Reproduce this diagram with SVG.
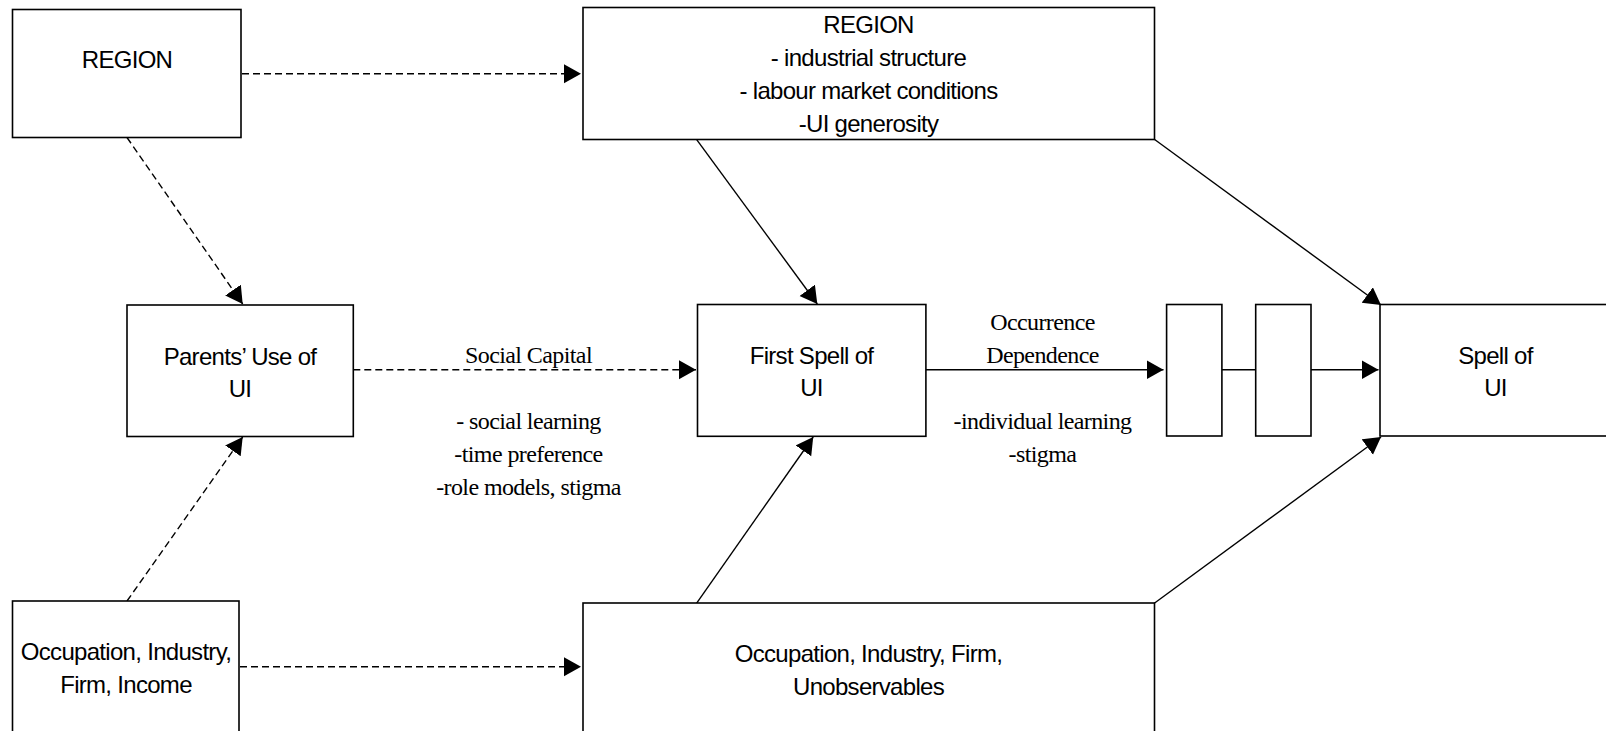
<svg xmlns="http://www.w3.org/2000/svg" width="1606" height="731" viewBox="0 0 1606 731">
<defs>
<style>
.box{fill:#fff;stroke:#000;stroke-width:1.6}
.t{font-family:"Liberation Sans",Arial,sans-serif;font-size:24px;letter-spacing:-0.7px;text-anchor:middle;fill:#000}
.s{font-family:"Liberation Serif","Times New Roman",serif;font-size:24px;letter-spacing:-0.6px;text-anchor:middle;fill:#000}
.c{fill:none;stroke:#000;stroke-width:1.4}
.d{stroke-dasharray:7 4}
</style>
<marker id="ah" markerUnits="userSpaceOnUse" markerWidth="20" markerHeight="20" refX="17" refY="9.5" orient="auto">
<path d="M0,0 L17,9.5 L0,19 z" fill="#000"/>
</marker>
</defs>
<rect width="1606" height="731" fill="#fff"/>
<g id="connectors">
<line class="c d" x1="242" y1="73.7" x2="581" y2="73.7" marker-end="url(#ah)"/>
<line class="c d" x1="127" y1="137.5" x2="242.7" y2="304" marker-end="url(#ah)"/>
<line class="c d" x1="127" y1="601" x2="242.7" y2="437" marker-end="url(#ah)"/>
<line class="c d" x1="353.3" y1="369.7" x2="696" y2="369.7" marker-end="url(#ah)"/>
<line class="c d" x1="240" y1="666.8" x2="581" y2="666.8" marker-end="url(#ah)"/>
<line class="c" x1="696.5" y1="139.3" x2="817.3" y2="304" marker-end="url(#ah)"/>
<line class="c" x1="696.5" y1="603.3" x2="813.2" y2="437" marker-end="url(#ah)"/>
<line class="c" x1="925.9" y1="369.7" x2="1163.5" y2="369.7" marker-end="url(#ah)"/>
<line class="c" x1="1221.9" y1="369.7" x2="1255.7" y2="369.7"/>
<line class="c" x1="1311" y1="369.7" x2="1378.5" y2="369.7" marker-end="url(#ah)"/>
<line class="c" x1="1154.3" y1="139.3" x2="1381" y2="305" marker-end="url(#ah)"/>
<line class="c" x1="1154.3" y1="603.3" x2="1381" y2="437" marker-end="url(#ah)"/>
</g>
<g id="region">
<rect class="box" x="12.5" y="9.5" width="228.5" height="128"/>
<text class="t" x="127" y="67.5">REGION</text>
</g>
<g id="region-detail">
<rect class="box" x="583" y="7.5" width="571.5" height="132"/>
<text class="t" x="868.5" y="32.5">REGION</text>
<text class="t" x="868.5" y="65.5">- industrial structure</text>
<text class="t" x="868.5" y="98.5">- labour market conditions</text>
<text class="t" x="868.5" y="131.5">-UI generosity</text>
</g>
<g id="parents">
<rect class="box" x="127" y="305" width="226.3" height="131.5"/>
<text class="t" x="240" y="364.5">Parents’ Use of</text>
<text class="t" x="240" y="397">UI</text>
</g>
<g id="first-spell">
<rect class="box" x="697.5" y="304.5" width="228.4" height="131.8"/>
<text class="t" x="811.5" y="364">First Spell of</text>
<text class="t" x="811.5" y="396">UI</text>
</g>
<g id="step1">
<rect class="box" x="1166.6" y="304.5" width="55.3" height="131.5"/>
</g>
<g id="step2">
<rect class="box" x="1255.7" y="304.5" width="55.3" height="131.5"/>
</g>
<g id="spell">
<rect class="box" x="1380" y="304.5" width="300" height="131.5"/>
<text class="t" x="1495.5" y="364">Spell of</text>
<text class="t" x="1495.5" y="396">UI</text>
</g>
<g id="occ-left">
<rect class="box" x="12.5" y="601" width="226.5" height="200"/>
<text class="t" x="126" y="660">Occupation, Industry,</text>
<text class="t" x="126" y="692.5">Firm, Income</text>
</g>
<g id="occ-right">
<rect class="box" x="583" y="603" width="571.5" height="200"/>
<text class="t" x="868.5" y="661.5">Occupation, Industry, Firm,</text>
<text class="t" x="868.5" y="694.5">Unobservables</text>
</g>
<g id="labels">
<text class="s" x="528.5" y="363">Social Capital</text>
<text class="s" x="528.5" y="429">- social learning</text>
<text class="s" x="528.5" y="462">-time preference</text>
<text class="s" x="528.5" y="495">-role models, stigma</text>
<text class="s" x="1042.5" y="330">Occurrence</text>
<text class="s" x="1042.5" y="363">Dependence</text>
<text class="s" x="1042.5" y="429">-individual learning</text>
<text class="s" x="1042.5" y="462">-stigma</text>
</g>
</svg>
